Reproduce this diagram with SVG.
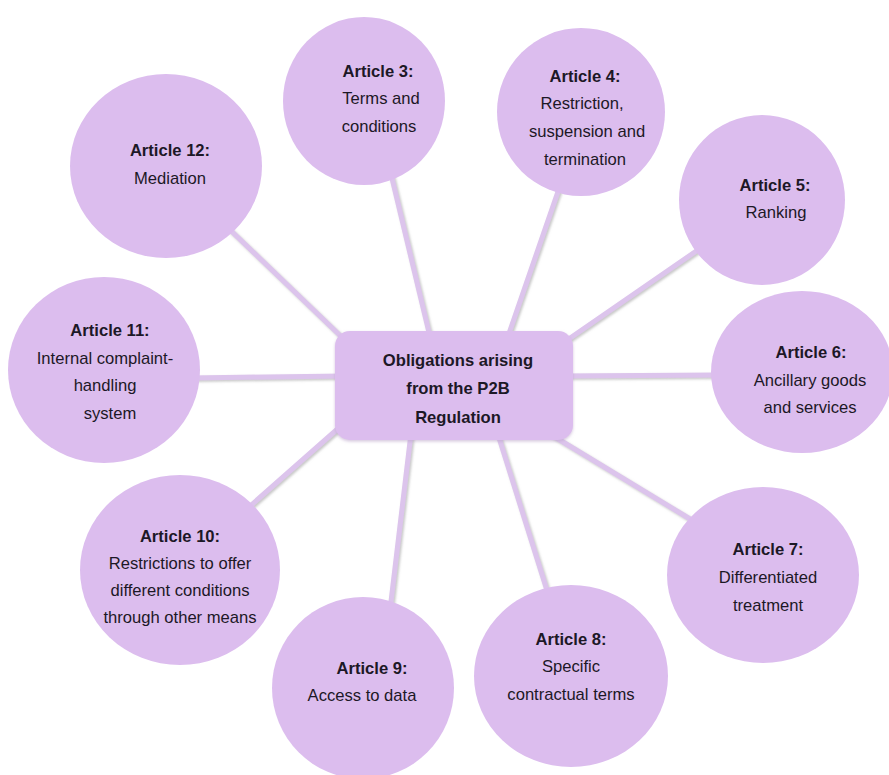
<svg xmlns="http://www.w3.org/2000/svg" width="889" height="775" viewBox="0 0 889 775">
  <defs>
    <filter id="lineShadow" x="-20%" y="-20%" width="140%" height="140%">
      <feDropShadow dx="1.5" dy="1.5" stdDeviation="1" flood-color="#9a9a9a" flood-opacity="0.55"/>
    </filter>
    <filter id="boxShadow" x="-10%" y="-10%" width="120%" height="130%">
      <feDropShadow dx="0" dy="1.5" stdDeviation="1.5" flood-color="#b9a2c8" flood-opacity="0.6"/>
    </filter>
  </defs>
  <style>
    .bg { fill: #ffffff; }
    .link { stroke: #dcc4ec; stroke-width: 5; stroke-linecap: round; fill: none; }
    .bubble { fill: #dcbdee; }
    .hub { fill: #dcbdee; }
    text { font-family: "Liberation Sans", Arial, sans-serif; font-size: 16.6px; fill: #1c1826; text-anchor: middle; }
    .t { font-weight: bold; }
  </style>

  <rect class="bg" x="0" y="0" width="889" height="775"/>

  <!-- spokes from the hub to each article -->
  <g id="connectors" filter="url(#lineShadow)">
    <line class="link" x1="432" y1="345" x2="390" y2="170"/>
    <line class="link" x1="505" y1="345" x2="562" y2="180"/>
    <line class="link" x1="560" y1="345" x2="705" y2="245"/>
    <line class="link" x1="560" y1="376" x2="720" y2="375"/>
    <line class="link" x1="535" y1="425" x2="695" y2="522"/>
    <line class="link" x1="495" y1="425" x2="550" y2="600"/>
    <line class="link" x1="412" y1="425" x2="390" y2="610"/>
    <line class="link" x1="350" y1="418" x2="240" y2="515"/>
    <line class="link" x1="345" y1="376" x2="190" y2="378"/>
    <line class="link" x1="350" y1="345" x2="225" y2="225"/>
  </g>

  <g id="hub">
    <rect class="hub" x="335" y="331" width="238" height="109" rx="15" ry="15" filter="url(#boxShadow)"/>
    <text class="t" x="458" y="366">Obligations arising</text>
    <text class="t" x="458" y="394">from the P2B</text>
    <text class="t" x="458" y="423">Regulation</text>
  </g>

  <g id="article3">
    <ellipse class="bubble" cx="364" cy="101" rx="81" ry="84"/>
    <text class="t" x="378" y="77">Article 3:</text>
    <text x="381" y="104">Terms and</text>
    <text x="379" y="132">conditions</text>
  </g>

  <g id="article4">
    <ellipse class="bubble" cx="581" cy="112" rx="84" ry="84"/>
    <text class="t" x="585" y="82">Article 4:</text>
    <text x="582" y="109">Restriction,</text>
    <text x="587" y="137">suspension and</text>
    <text x="585" y="165">termination</text>
  </g>

  <g id="article5">
    <ellipse class="bubble" cx="762" cy="200" rx="83" ry="85"/>
    <text class="t" x="775" y="191">Article 5:</text>
    <text x="776" y="218">Ranking</text>
  </g>

  <g id="article6">
    <ellipse class="bubble" cx="802" cy="372" rx="91" ry="81"/>
    <text class="t" x="811" y="358">Article 6:</text>
    <text x="810" y="386">Ancillary goods</text>
    <text x="810" y="413">and services</text>
  </g>

  <g id="article7">
    <ellipse class="bubble" cx="763" cy="575" rx="96" ry="88"/>
    <text class="t" x="768" y="555">Article 7:</text>
    <text x="768" y="583">Differentiated</text>
    <text x="768" y="611">treatment</text>
  </g>

  <g id="article8">
    <ellipse class="bubble" cx="571" cy="676" rx="97" ry="91"/>
    <text class="t" x="571" y="645">Article 8:</text>
    <text x="571" y="672">Specific</text>
    <text x="571" y="700">contractual terms</text>
  </g>

  <g id="article9">
    <ellipse class="bubble" cx="363" cy="688" rx="91" ry="91"/>
    <text class="t" x="372" y="674">Article 9:</text>
    <text x="362" y="701">Access to data</text>
  </g>

  <g id="article10">
    <ellipse class="bubble" cx="180" cy="570" rx="100" ry="95"/>
    <text class="t" x="180" y="542">Article 10:</text>
    <text x="180" y="569">Restrictions to offer</text>
    <text x="180" y="596">different conditions</text>
    <text x="180" y="623">through other means</text>
  </g>

  <g id="article11">
    <ellipse class="bubble" cx="104" cy="370" rx="96" ry="93"/>
    <text class="t" x="110" y="336">Article 11:</text>
    <text x="105" y="364">Internal complaint-</text>
    <text x="105" y="391">handling</text>
    <text x="110" y="419">system</text>
  </g>

  <g id="article12">
    <ellipse class="bubble" cx="166" cy="166" rx="96" ry="92"/>
    <text class="t" x="170" y="156">Article 12:</text>
    <text x="170" y="184">Mediation</text>
  </g>
</svg>
